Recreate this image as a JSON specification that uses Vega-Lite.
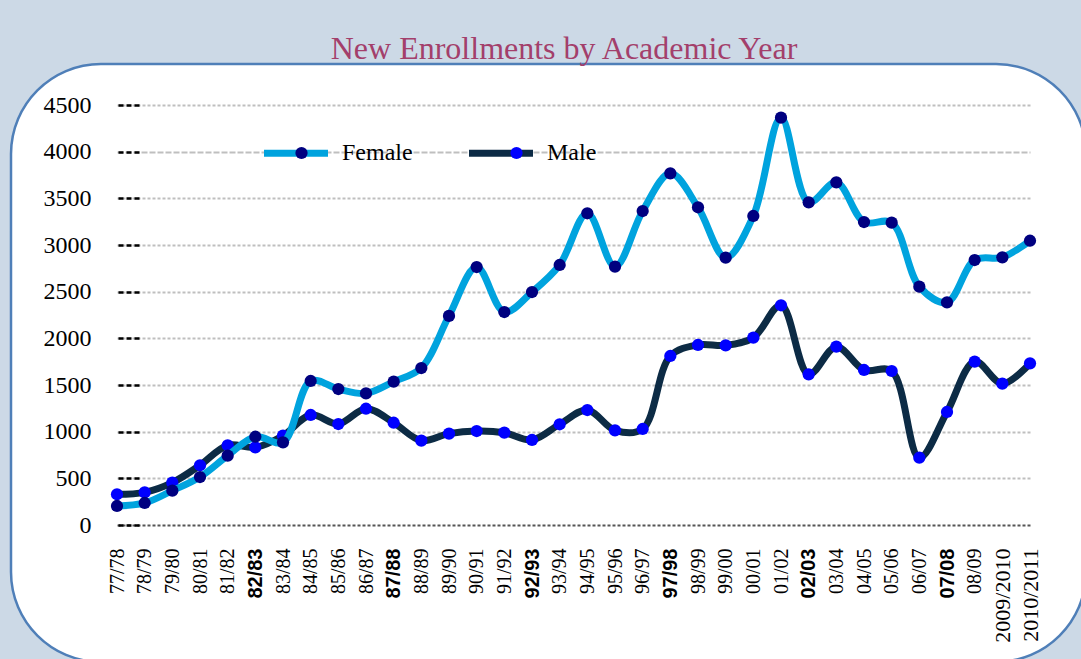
{
  "$schema": "https://vega.github.io/schema/vega-lite/v6.json",
  "background": "#CCD9E6",
  "padding": {"left": 11, "top": 64, "right": 0, "bottom": 0},
  "autosize": {"type": "none"},
  "width": 1075,
  "height": 598,
  "view": {"fill": "white", "stroke": "#4F7FB8", "strokeWidth": 2.5, "cornerRadius": 90},
  "title": {
    "text": "New Enrollments by Academic Year",
    "font": "Liberation Serif",
    "fontSize": 32,
    "fontWeight": "normal",
    "color": "#A33F6B",
    "anchor": "middle",
    "offset": -1.5,
    "dx": 15.5
  },
  "data": {
    "values": [
      {"year": "77/78", "Female": 204, "Male": 329},
      {"year": "78/79", "Female": 236, "Male": 350},
      {"year": "79/80", "Female": 368, "Male": 454},
      {"year": "80/81", "Female": 514, "Male": 640},
      {"year": "81/82", "Female": 743, "Male": 854},
      {"year": "82/83", "Female": 946, "Male": 832},
      {"year": "83/84", "Female": 886, "Male": 957},
      {"year": "84/85", "Female": 1543, "Male": 1179},
      {"year": "85/86", "Female": 1457, "Male": 1082},
      {"year": "86/87", "Female": 1411, "Male": 1246},
      {"year": "87/88", "Female": 1536, "Male": 1096},
      {"year": "88/89", "Female": 1682, "Male": 904},
      {"year": "89/90", "Female": 2240, "Male": 979},
      {"year": "90/91", "Female": 2764, "Male": 1007},
      {"year": "91/92", "Female": 2282, "Male": 989},
      {"year": "92/93", "Female": 2496, "Male": 911},
      {"year": "93/94", "Female": 2786, "Male": 1079},
      {"year": "94/95", "Female": 3340, "Male": 1232},
      {"year": "95/96", "Female": 2768, "Male": 1014},
      {"year": "96/97", "Female": 3364, "Male": 1029},
      {"year": "97/98", "Female": 3768, "Male": 1811},
      {"year": "98/99", "Female": 3404, "Male": 1929},
      {"year": "99/00", "Female": 2864, "Male": 1925},
      {"year": "00/01", "Female": 3311, "Male": 2007},
      {"year": "01/02", "Female": 4364, "Male": 2354},
      {"year": "02/03", "Female": 3457, "Male": 1614},
      {"year": "03/04", "Female": 3671, "Male": 1911},
      {"year": "04/05", "Female": 3246, "Male": 1661},
      {"year": "05/06", "Female": 3239, "Male": 1650},
      {"year": "06/07", "Female": 2554, "Male": 721},
      {"year": "07/08", "Female": 2386, "Male": 1211},
      {"year": "08/09", "Female": 2839, "Male": 1750},
      {"year": "2009/2010", "Female": 2868, "Male": 1514},
      {"year": "2010/2011", "Female": 3046, "Male": 1732}
    ]
  },
  "transform": [{"fold": ["Female", "Male"], "as": ["sex", "n"]}],
  "encoding": {
    "x": {
      "field": "year",
      "type": "ordinal",
      "scale": {
        "type": "point",
        "domain": ["77/78","78/79","79/80","80/81","81/82","82/83","83/84","84/85","85/86","86/87","87/88","88/89","89/90","90/91","91/92","92/93","93/94","94/95","95/96","96/97","97/98","98/99","99/00","00/01","01/02","02/03","03/04","04/05","05/06","06/07","07/08","08/09","2009/2010","2010/2011"],
        "range": [106, 1019],
        "padding": 0
      },
      "axis": {
        "title": null,
        "offset": -137,
        "labelAngle": -90,
        "labelPadding": 23,
        "ticks": false,
        "domain": false,
        "grid": false,
        "labelFont": {"condition": {"test": "indexof(['82/83','87/88','92/93','97/98','02/03','07/08'], datum.value) >= 0", "value": "Liberation Sans"}, "value": "Liberation Serif"},
        "labelFontWeight": {"condition": {"test": "indexof(['82/83','87/88','92/93','97/98','02/03','07/08'], datum.value) >= 0", "value": "bold"}, "value": "normal"},
        "labelFontSize": {"condition": {"test": "length(datum.value) > 5", "value": 22}, "value": 20},
        "labelColor": "black",
        "labelOverlap": false
      }
    },
    "y": {
      "field": "n",
      "type": "quantitative",
      "scale": {"domain": [0, 4500], "range": [461, 41], "nice": false, "zero": true},
      "axis": {
        "title": null,
        "values": [0, 500, 1000, 1500, 2000, 2500, 3000, 3500, 4000, 4500],
        "format": "d",
        "offset": -128,
        "domain": false,
        "tickSize": 23,
        "tickColor": "black",
        "tickWidth": 2.5,
        "tickDash": [5, 3],
        "labelPadding": 25,
        "labelFont": "Liberation Serif",
        "labelFontSize": 24,
        "labelColor": "black",
        "grid": true,
        "gridColor": {"condition": {"test": "datum.value === 0", "value": "#555555"}, "value": "#BFBFBF"},
        "gridWidth": 2,
        "gridDash": {"condition": {"test": "datum.value === 4000", "value": [6, 2]}, "value": [3, 2]}
      }
    }
  },
  "layer": [
    {
      "transform": [{"filter": "datum.sex === 'Male'"}],
      "mark": {"type": "line", "interpolate": "catmull-rom", "strokeWidth": 7},
      "encoding": {
        "stroke": {
          "field": "sex",
          "type": "nominal",
          "scale": {"domain": ["Female", "Male"], "range": ["#00A3DE", "#0C2B45"]},
          "legend": {
            "orient": "none",
            "legendX": 249.5,
            "legendY": 53.5,
            "direction": "horizontal",
            "title": null,
            "symbolType": "stroke",
            "symbolSize": 4096,
            "symbolStrokeWidth": 7,
            "labelFont": "Liberation Serif",
            "labelFontSize": 24,
            "labelColor": "black",
            "labelOffset": 10.5,
            "columnPadding": 41,
            "padding": 0
          }
        }
      }
    },
    {
      "transform": [{"filter": "datum.sex === 'Male'"}],
      "mark": {"type": "circle", "size": 150, "opacity": 1},
      "encoding": {
        "fill": {
          "field": "sex",
          "type": "nominal",
          "scale": {"domain": ["Male", "Female"], "range": ["#0000FF", "#000080"]},
          "legend": {
            "values": ["Female", "Male"],
            "orient": "none",
            "legendX": 278.5,
            "legendY": 77,
            "direction": "horizontal",
            "title": null,
            "symbolType": "circle",
            "symbolSize": 150,
            "symbolStrokeWidth": 0,
            "symbolOpacity": 1,
            "labelExpr": "''",
            "labelFontSize": 24,
            "labelOffset": 0,
            "columnPadding": 191,
            "padding": 0
          }
        }
      }
    },
    {
      "transform": [{"filter": "datum.sex === 'Female'"}],
      "mark": {"type": "line", "interpolate": "catmull-rom", "strokeWidth": 7},
      "encoding": {"stroke": {"field": "sex", "type": "nominal"}}
    },
    {
      "transform": [{"filter": "datum.sex === 'Female'"}],
      "mark": {"type": "circle", "size": 150, "opacity": 1},
      "encoding": {"fill": {"field": "sex", "type": "nominal"}}
    }
  ]
}
